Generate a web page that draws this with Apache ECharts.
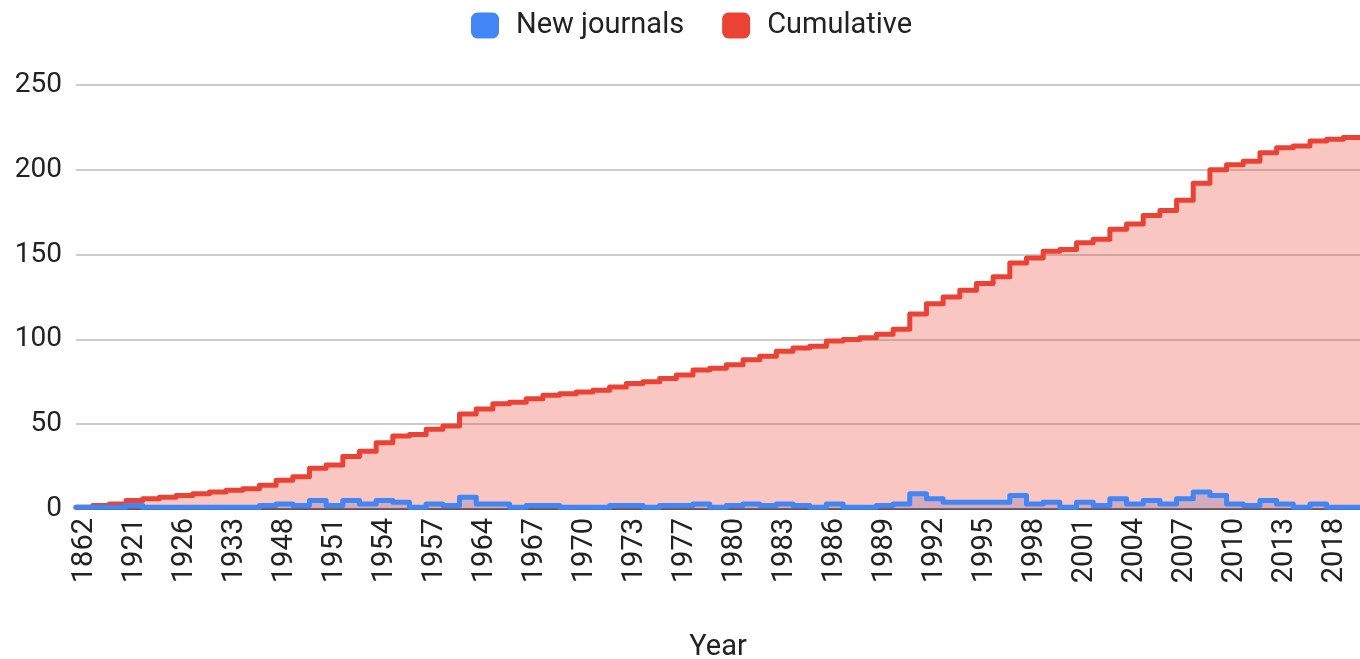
<!DOCTYPE html>
<html>
<head>
<meta charset="utf-8">
<script src="https://cdn.jsdelivr.net/npm/echarts@6/dist/echarts.min.js"></script>
<style>
html, body { margin: 0; padding: 0; background: #fff; }
#chart { width: 1360px; height: 659px; }
</style>
</head>
<body>
<div id="chart"></div>
<script>
// years that had at least one new journal (only every 3rd label is shown)
var years = [
  '1862','1895','1912','1921','1923','1924','1926','1928','1930','1933','1938','1946',
  '1948','1949','1950','1951','1952','1953','1954','1955','1956','1957','1960','1962',
  '1964','1965','1966','1967','1968','1969','1970','1971','1972','1973','1974','1976',
  '1977','1978','1979','1980','1981','1982','1983','1984','1985','1986','1987','1988',
  '1989','1990','1991','1992','1993','1994','1995','1996','1997','1998','1999','2000',
  '2001','2002','2003','2004','2005','2006','2007','2008','2009','2010','2011','2012',
  '2013','2015','2016','2018','2019'
];

var newJournals = [
  1,1,1,2,1,1,1,1,1,1,1,2,3,2,
  5,2,5,3,5,4,1,3,2,7,3,3,1,
  2,2,1,1,1,2,2,1,2,2,3,1,2,
  3,2,3,2,1,3,1,1,2,3,9,6,
  4,4,4,4,8,3,4,1,4,2,6,3,5,3,
  6,10,8,3,2,5,3,1,3,1,1
];

var cumulative = [
  1,2,3,5,6,7,8,9,10,11,12,14,17,19,
  24,26,31,34,39,43,44,47,49,56,59,62,63,
  65,67,68,69,70,72,74,75,77,79,82,83,85,
  88,90,93,95,96,99,100,101,103,106,115,121,
  125,129,133,137,145,148,152,153,157,159,165,168,173,176,
  182,192,200,203,205,210,213,214,217,218,219
];

var yTicks = [0, 50, 100, 150, 200, 250];

var BLUE = '#4285f4';
var RED = '#ea4335';
var FONT = 'Roboto, Arial, sans-serif';

// each category is a full-width band: value i is held from i to i+1
function steps(vals) {
  var d = vals.map(function (v, i) { return [i, v]; });
  d.push([vals.length, vals[vals.length - 1]]);
  return d;
}

// same staircase as a polyline in data space (line series drops risers < 2px)
function stairCoords(vals) {
  var c = [];
  vals.forEach(function (v, i) {
    c.push([i, v]);
    c.push([i + 1, v]);
  });
  return [{ coords: c }];
}

var chart = echarts.init(document.getElementById('chart'));

var option = {
  animation: false,
  textStyle: { fontFamily: FONT },
  legend: {
    data: ['New journals', 'Cumulative'],
    left: 466,
    top: 6,
    icon: 'roundRect',
    itemWidth: 28,
    itemHeight: 26,
    itemGap: 38,
    textStyle: { fontSize: 29, color: '#222', fontFamily: FONT, padding: [0, 0, 0, 12] }
  },
  grid: { left: 76, right: 0, top: 85, bottom: 150, containLabel: false, outerBoundsMode: 'none' },
  xAxis: [
    {
      type: 'category',
      data: years,
      boundaryGap: true,
      axisTick: { show: false },
      axisLine: { show: true, lineStyle: { color: '#333', width: 1.5 } },
      axisLabel: { interval: 2, rotate: 90, fontSize: 29, color: '#222', margin: 9, fontFamily: FONT },
      name: 'Year',
      nameLocation: 'middle',
      nameGap: 124,
      nameTextStyle: { fontSize: 29, color: '#222', fontFamily: FONT }
    },
    { type: 'value', min: 0, max: years.length, show: false }
  ],
  yAxis: {
    type: 'value',
    min: yTicks[0],
    max: yTicks[yTicks.length - 1],
    interval: 50,
    axisLine: { show: false },
    axisTick: { show: false },
    axisLabel: { fontSize: 28, color: '#222', margin: 14, fontFamily: FONT },
    splitLine: { lineStyle: { color: '#cccccc', width: 2 } }
  },
  series: [
    {
      name: 'New journals',
      type: 'line',
      xAxisIndex: 1,
      step: 'end',
      data: steps(newJournals),
      symbol: 'none',
      lineStyle: { width: 0 },
      itemStyle: { color: BLUE },
      areaStyle: { color: BLUE, opacity: 0.3 },
      z: 1
    },
    {
      name: 'Cumulative',
      type: 'line',
      xAxisIndex: 1,
      step: 'end',
      data: steps(cumulative),
      symbol: 'none',
      lineStyle: { width: 0 },
      itemStyle: { color: RED },
      areaStyle: { color: RED, opacity: 0.3 },
      z: 2
    },
    {
      name: 'Cumulative',
      type: 'lines',
      coordinateSystem: 'cartesian2d',
      xAxisIndex: 1,
      polyline: true,
      data: stairCoords(cumulative),
      lineStyle: { color: RED, width: 5, opacity: 1, cap: 'round', join: 'round' },
      z: 3
    },
    {
      name: 'New journals',
      type: 'lines',
      coordinateSystem: 'cartesian2d',
      xAxisIndex: 1,
      polyline: true,
      data: stairCoords(newJournals),
      lineStyle: { color: BLUE, width: 5, opacity: 1, cap: 'round', join: 'round' },
      z: 4
    }
  ]
};

chart.setOption(option);
window.onresize = function () {
  chart.resize();
};
</script>
</body>
</html>
